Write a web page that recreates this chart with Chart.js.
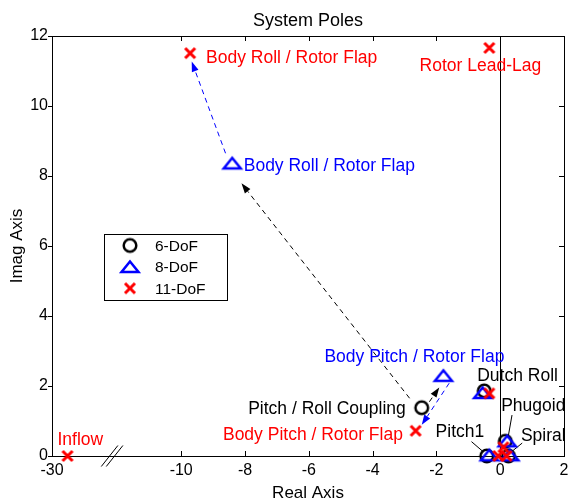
<!DOCTYPE html>
<html>
<head>
<meta charset="utf-8">
<title>System Poles</title>
<script src="https://cdn.jsdelivr.net/npm/chart.js@4.4.1/dist/chart.umd.min.js"></script>
<style>
  html, body { margin: 0; padding: 0; background: #fff; }
</style>
</head>
<body>
<canvas id="poles" width="569" height="503"></canvas>
<script>
// pole locations (real, imag) for each model order
const dof6Real = [-2.46, -0.50, -0.42, 0.16, 0.26];
const dof6Imag = [1.38, 1.86, 0.00, 0.42, 0.00];
const dof8Real = [-8.40, -1.78, -0.55, -0.34, 0.22, 0.30];
const dof8Imag = [8.36, 2.29, 1.80, 0.02, 0.42, 0.02];
const dof11Real = [-9.72, -0.34, -27.6, -2.65, -0.34, -0.06, 0.10, 0.20];
const dof11Imag = [11.51, 11.66, 0.00, 0.72, 1.79, 0.00, 0.25, 0.00];

const xTickValues = [-30, -10, -8, -6, -4, -2, 0, 2];
const yTickValues = [0, 2, 4, 6, 8, 10, 12];

const red = '#ff0000';
const blue = '#0000ff';
const black = '#000000';
const FONT = "'Liberation Sans', Arial, Helvetica, sans-serif";

// mode names, placed in data units (left/right/center anchored, baseline at y)
const modeLabels = [
  { text: 'Body Roll / Rotor Flap', x: -9.22, y: 11.22, color: red, align: 'left' },
  { text: 'Rotor Lead-Lag', x: -0.62, y: 11.01, color: red, align: 'center' },
  { text: 'Body Roll / Rotor Flap', x: -8.04, y: 8.15, color: blue, align: 'left' },
  { text: 'Body Pitch / Rotor Flap', x: -5.51, y: 2.69, color: blue, align: 'left' },
  { text: 'Pitch / Roll Coupling', x: -2.96, y: 1.20, color: black, align: 'right' },
  { text: 'Body Pitch / Rotor Flap', x: -3.05, y: 0.46, color: red, align: 'right' },
  { text: 'Inflow', x: -29.16, y: 0.31, color: red, align: 'left' },
  { text: 'Dutch Roll', x: -0.72, y: 2.15, color: black, align: 'left' },
  { text: 'Phugoid', x: 0.03, y: 1.29, color: black, align: 'left' },
  { text: 'Pitch1', x: -0.50, y: 0.55, color: black, align: 'right' },
  { text: 'Spiral', x: 0.65, y: 0.44, color: black, align: 'left' }
];

// leader lines from small-mode labels down to the pole cluster
const leaders = [
  [0.37, 1.17, 0.25, 0.55],
  [-0.90, 0.41, -0.53, 0.12],
  [0.69, 0.37, 0.34, 0.11]
];

// dashed arrows showing how poles move as states are added
const arrows = [
  { from: [-8.61, 8.65], to: [-9.67, 11.27], color: blue },
  { from: [-2.84, 1.65], to: [-8.11, 7.79], color: black },
  { from: [-2.22, 1.55], to: [-1.91, 1.96], color: black },
  { from: [-1.60, 2.08], to: [-2.46, 0.89], color: blue }
];

// real axis is broken between -30 and -10, that stretch gets squeezed
const BREAK_HI = -10;
const BREAK_LO = -30;
const BREAK_LO_POS = -14.05;
const BREAK_MARK = -20.7;
const mapX = v => v >= BREAK_HI ? v
  : BREAK_HI + (v - BREAK_HI) * (BREAK_HI - BREAK_LO_POS) / (BREAK_HI - BREAK_LO);

const toPoints = (re, im) => re.map((r, i) => ({ x: mapX(r), y: im[i] }));

// marker images, matlab style o ^ x
const markerCanvas = (w, h, draw) => {
  const c = document.createElement('canvas');
  c.width = w;
  c.height = h;
  const g = c.getContext('2d');
  g.translate(w / 2, h / 2);
  draw(g);
  return c;
};
const circleMarker = markerCanvas(20, 20, g => {
  g.strokeStyle = black;
  g.lineWidth = 2.5;
  g.beginPath();
  g.arc(0, 0, 6.3, 0, Math.PI * 2);
  g.stroke();
});
const triangleMarker = markerCanvas(26, 22, g => {
  g.strokeStyle = blue;
  g.lineWidth = 2.5;
  g.lineJoin = 'miter';
  g.beginPath();
  g.moveTo(0, -5.5);
  g.lineTo(8.5, 5);
  g.lineTo(-8.5, 5);
  g.closePath();
  g.stroke();
});
const crossMarker = markerCanvas(16, 16, g => {
  g.strokeStyle = red;
  g.lineWidth = 3;
  g.beginPath();
  g.moveTo(-5, -5); g.lineTo(5, 5);
  g.moveTo(5, -5); g.lineTo(-5, 5);
  g.stroke();
});

const pix = (chart, x, y) => [chart.scales.x.getPixelForValue(mapX(x)), chart.scales.y.getPixelForValue(y)];

// axes box, ticks, imaginary axis and the break marks
const framePlugin = {
  id: 'frame',
  beforeDatasetsDraw(chart) {
    const { ctx, chartArea: a, scales } = chart;
    ctx.save();
    ctx.strokeStyle = black;
    ctx.lineWidth = 1;

    const x0 = Math.round(scales.x.getPixelForValue(0)) + 0.5;
    ctx.beginPath();
    ctx.moveTo(x0, a.top);
    ctx.lineTo(x0, a.bottom);
    ctx.stroke();

    ctx.strokeRect(Math.round(a.left) + 0.5, Math.round(a.top) + 0.5,
      Math.round(a.right - a.left), Math.round(a.bottom - a.top));

    ctx.beginPath();
    xTickValues.forEach(v => {
      const x = Math.round(scales.x.getPixelForValue(mapX(v))) + 0.5;
      ctx.moveTo(x, a.bottom);
      ctx.lineTo(x, a.bottom - 5);
      ctx.moveTo(x, a.top);
      ctx.lineTo(x, a.top + 5);
    });
    yTickValues.forEach(v => {
      const y = Math.round(scales.y.getPixelForValue(v)) + 0.5;
      ctx.moveTo(a.left, y);
      ctx.lineTo(a.left - 4, y);
      ctx.moveTo(a.right, y);
      ctx.lineTo(a.right - 5, y);
    });
    ctx.stroke();

    // "//" on the real axis
    const bx = scales.x.getPixelForValue(mapX(BREAK_MARK));
    const by = a.bottom;
    ctx.beginPath();
    [-2.5, 2.5].forEach(d => {
      ctx.moveTo(bx + d - 8.3, by + 10.5);
      ctx.lineTo(bx + d + 8.3, by - 10.5);
    });
    ctx.stroke();

    // dashed arrows
    arrows.forEach(ar => {
      const [x1, y1] = pix(chart, ar.from[0], ar.from[1]);
      const [x2, y2] = pix(chart, ar.to[0], ar.to[1]);
      const ang = Math.atan2(y2 - y1, x2 - x1);
      const len = 10;
      const half = 3.5;
      const bxp = x2 - len * Math.cos(ang);
      const byp = y2 - len * Math.sin(ang);
      ctx.strokeStyle = ar.color;
      ctx.fillStyle = ar.color;
      ctx.setLineDash([5, 4]);
      ctx.beginPath();
      ctx.moveTo(x1, y1);
      ctx.lineTo(bxp, byp);
      ctx.stroke();
      ctx.setLineDash([]);
      ctx.beginPath();
      ctx.moveTo(x2, y2);
      ctx.lineTo(bxp + half * Math.sin(ang), byp - half * Math.cos(ang));
      ctx.lineTo(bxp - half * Math.sin(ang), byp + half * Math.cos(ang));
      ctx.closePath();
      ctx.fill();
    });

    // leader lines
    ctx.strokeStyle = black;
    ctx.beginPath();
    leaders.forEach(l => {
      const [x1, y1] = pix(chart, l[0], l[1]);
      const [x2, y2] = pix(chart, l[2], l[3]);
      ctx.moveTo(x1, y1);
      ctx.lineTo(x2, y2);
    });
    ctx.stroke();
    ctx.restore();
  },
  afterDatasetsDraw(chart) {
    const { ctx, chartArea: a } = chart;
    ctx.save();
    ctx.textBaseline = 'alphabetic';

    // title
    ctx.fillStyle = black;
    ctx.font = `18px ${FONT}`;
    ctx.textAlign = 'center';
    ctx.fillText('System Poles', (a.left + a.right) / 2, 26);

    // mode labels
    ctx.font = `17.5px ${FONT}`;
    modeLabels.forEach(l => {
      const [x, y] = pix(chart, l.x, l.y);
      ctx.fillStyle = l.color;
      ctx.textAlign = l.align;
      ctx.fillText(l.text, x, y);
    });

    // legend box
    const lx = a.left + 52;
    const ly = a.top + 198;
    ctx.fillStyle = '#fff';
    ctx.fillRect(lx, ly, 123, 66);
    ctx.strokeStyle = black;
    ctx.lineWidth = 1;
    ctx.strokeRect(lx + 0.5, ly + 0.5, 123, 66);
    const entries = [
      { img: circleMarker, text: '6-DoF', dy: 11.5 },
      { img: triangleMarker, text: '8-DoF', dy: 33 },
      { img: crossMarker, text: '11-DoF', dy: 54.3 }
    ];
    ctx.font = `15.5px ${FONT}`;
    ctx.fillStyle = black;
    ctx.textAlign = 'left';
    entries.forEach(e => {
      const cy = ly + e.dy;
      ctx.drawImage(e.img, lx + 26 - e.img.width / 2, cy - e.img.height / 2);
      ctx.fillText(e.text, lx + 51, cy + 5.3);
    });
    ctx.restore();
  }
};

const ctx = document.getElementById('poles').getContext('2d');
window.polesChart = new Chart(ctx, {
  type: 'scatter',
  data: {
    datasets: [
      {
        label: '6-DoF',
        data: toPoints(dof6Real, dof6Imag),
        pointStyle: circleMarker,
        clip: false,
        order: 3
      },
      {
        label: '8-DoF',
        data: toPoints(dof8Real, dof8Imag),
        pointStyle: triangleMarker,
        clip: false,
        order: 2
      },
      {
        label: '11-DoF',
        data: toPoints(dof11Real, dof11Imag),
        pointStyle: crossMarker,
        clip: false,
        order: 1
      }
    ]
  },
  options: {
    responsive: false,
    devicePixelRatio: 1,
    animation: false,
    events: [],
    layout: {
      padding: { top: 36, right: 2, left: 0, bottom: 0 }
    },
    plugins: {
      legend: { display: false },
      tooltip: { enabled: false }
    },
    scales: {
      x: {
        type: 'linear',
        position: 'bottom',
        min: mapX(-30),
        max: 2,
        grid: { display: false, drawTicks: false },
        border: { display: false },
        afterBuildTicks: scale => {
          scale.ticks = xTickValues.map(v => ({ value: mapX(v) }));
        },
        afterFit: scale => {
          scale.height = 47;
          scale.paddingLeft = 0;
          scale.paddingRight = 0;
        },
        ticks: {
          color: black,
          font: { family: FONT, size: 16 },
          padding: 5,
          maxRotation: 0,
          autoSkip: false,
          callback: (value, index) => String(xTickValues[index])
        },
        title: {
          display: true,
          text: 'Real Axis',
          color: black,
          font: { family: FONT, size: 17 },
          padding: { top: 0, bottom: -1 }
        }
      },
      y: {
        type: 'linear',
        min: 0,
        max: 12,
        grid: { display: false, drawTicks: false },
        border: { display: false },
        afterBuildTicks: scale => {
          scale.ticks = yTickValues.map(v => ({ value: v }));
        },
        afterFit: scale => {
          scale.width = 52;
        },
        ticks: {
          color: black,
          font: { family: FONT, size: 16 },
          padding: 4,
          callback: (value, index) => String(yTickValues[index])
        },
        title: {
          display: true,
          text: 'Imag Axis',
          color: black,
          font: { family: FONT, size: 17 },
          padding: { top: 7.5, bottom: 0 }
        }
      }
    }
  },
  plugins: [framePlugin]
});
</script>
</body>
</html>
